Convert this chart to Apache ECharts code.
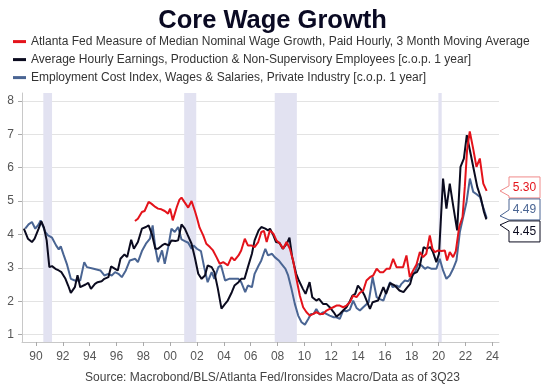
<!DOCTYPE html>
<html><head><meta charset="utf-8">
<script src="https://cdn.jsdelivr.net/npm/echarts@6/dist/echarts.min.js"></script>
<style>html,body{margin:0;padding:0;background:#fff}#c{width:541px;height:387px}</style>
</head><body><div id="c"></div>
<script>
const FONT = 'Liberation Sans, Arial, Helvetica, sans-serif';
const RED = '#e4131b', BLACK = '#0b0b1f', BLUE = '#4a6593';
const titleText = 'Core Wage Growth';
const sourceText = 'Source: Macrobond/BLS/Atlanta Fed/Ironsides Macro/Data as of 3Q23';
const nameAtl = 'Atlanta Fed Measure of Median Nominal Wage Growth, Paid Hourly, 3 Month Moving Average';
const nameAhe = 'Average Hourly Earnings, Production & Non-Supervisory Employees [c.o.p. 1 year]';
const nameEci = 'Employment Cost Index, Wages & Salaries, Private Industry [c.o.p. 1 year]';

// recession periods (decimal years)
const recessions = [[1990.55,1991.2],[2001.05,2001.95],[2007.8,2009.45],[2020.0,2020.25]];

// [decimal year, % y/y]
const atlantaFed = [[1997.38,4.4],[1997.6,4.47],[1997.9,4.67],[1998.1,4.7],[1998.4,4.97],[1998.6,4.92],[1998.9,4.82],[1999.1,4.77],[1999.35,4.75],[1999.6,4.7],[1999.85,4.62],[2000.0,4.77],[2000.2,4.42],[2000.5,4.82],[2000.7,5.04],[2000.85,5.1],[2001.1,4.95],[2001.35,4.8],[2001.6,5.0],[2001.85,4.7],[2002.0,4.5],[2002.2,4.2],[2002.47,3.97],[2002.7,3.72],[2002.97,3.62],[2003.2,3.52],[2003.46,3.32],[2003.7,3.12],[2003.96,3.17],[2004.15,3.12],[2004.3,3.07],[2004.58,3.32],[2004.8,3.22],[2005.1,3.37],[2005.3,3.52],[2005.57,3.87],[2005.8,3.67],[2006.05,3.67],[2006.3,3.62],[2006.57,3.77],[2006.8,4.07],[2007.0,4.1],[2007.2,3.77],[2007.44,4.12],[2007.7,4.02],[2007.93,3.82],[2008.2,3.72],[2008.43,3.57],[2008.68,3.77],[2008.93,3.57],[2009.17,3.22],[2009.42,2.67],[2009.67,2.17],[2009.92,1.82],[2010.17,1.67],[2010.42,1.57],[2010.67,1.62],[2010.9,1.67],[2011.16,1.62],[2011.4,1.62],[2011.66,1.72],[2011.9,1.77],[2012.16,1.82],[2012.4,1.87],[2012.65,1.87],[2012.9,1.82],[2013.15,1.87],[2013.4,1.97],[2013.65,2.17],[2013.9,2.12],[2014.14,2.25],[2014.4,2.32],[2014.64,2.62],[2014.9,2.72],[2015.14,2.77],[2015.4,2.97],[2015.64,2.87],[2015.9,2.87],[2016.13,2.97],[2016.38,2.97],[2016.63,3.27],[2016.88,3.02],[2017.12,3.02],[2017.37,3.02],[2017.62,3.37],[2017.87,2.72],[2018.12,2.92],[2018.37,3.1],[2018.62,3.47],[2018.86,3.32],[2019.1,3.42],[2019.36,3.97],[2019.56,3.57],[2019.73,3.47],[2020.0,3.52],[2020.24,3.5],[2020.48,3.52],[2020.65,3.22],[2020.85,3.47],[2021.1,3.32],[2021.3,3.5],[2021.55,4.22],[2021.8,4.52],[2021.97,5.42],[2022.14,6.52],[2022.34,7.08],[2022.6,6.55],[2022.84,6.02],[2023.09,6.27],[2023.35,5.52],[2023.6,5.3]];

const ahe = [[1989.1,4.17],[1989.4,3.87],[1989.7,3.77],[1989.9,3.87],[1990.2,4.17],[1990.4,4.39],[1990.6,4.2],[1990.8,3.82],[1991.0,3.02],[1991.2,3.05],[1991.45,2.97],[1991.7,2.92],[1991.9,2.87],[1992.2,2.67],[1992.4,2.47],[1992.6,2.25],[1992.9,2.42],[1993.1,2.78],[1993.3,2.42],[1993.7,2.5],[1993.9,2.55],[1994.1,2.37],[1994.4,2.52],[1994.6,2.57],[1994.9,2.6],[1995.1,2.67],[1995.4,2.72],[1995.6,3.04],[1995.9,2.97],[1996.1,2.92],[1996.3,3.27],[1996.6,3.4],[1996.8,3.32],[1997.1,3.84],[1997.3,3.57],[1997.6,3.77],[1997.9,4.17],[1998.2,4.22],[1998.4,4.27],[1998.65,4.0],[1998.9,3.57],[1999.1,3.57],[1999.4,3.67],[1999.6,3.72],[1999.9,3.67],[2000.1,3.82],[2000.4,3.8],[2000.6,3.82],[2000.85,4.3],[2001.1,4.17],[2001.35,3.95],[2001.6,3.72],[2001.85,3.3],[2002.1,2.82],[2002.35,2.67],[2002.6,2.77],[2002.8,3.07],[2003.1,3.02],[2003.3,2.87],[2003.55,2.4],[2003.83,1.78],[2004.1,1.92],[2004.3,2.02],[2004.6,2.27],[2004.8,2.47],[2005.1,2.57],[2005.3,2.67],[2005.55,2.67],[2005.8,3.02],[2006.1,3.42],[2006.3,3.82],[2006.6,4.12],[2006.8,4.22],[2007.1,4.17],[2007.3,4.12],[2007.45,4.17],[2007.7,3.97],[2007.9,3.77],[2008.15,3.75],[2008.4,3.57],[2008.7,3.72],[2008.9,3.9],[2009.1,3.32],[2009.4,2.82],[2009.6,2.62],[2009.9,2.37],[2010.1,2.22],[2010.4,2.57],[2010.6,2.12],[2010.9,2.02],[2011.1,2.07],[2011.4,1.92],[2011.65,1.92],[2011.9,1.82],[2012.2,1.67],[2012.4,1.54],[2012.65,1.62],[2012.9,1.72],[2013.15,1.82],[2013.4,2.0],[2013.6,2.17],[2013.8,2.22],[2014.0,2.47],[2014.3,2.32],[2014.5,2.17],[2014.9,1.77],[2015.1,1.97],[2015.5,2.02],[2015.9,2.42],[2016.1,2.22],[2016.4,2.54],[2016.75,2.47],[2017.1,2.32],[2017.4,2.27],[2017.65,2.4],[2017.9,2.52],[2018.1,2.82],[2018.4,2.87],[2018.6,3.02],[2018.9,3.62],[2019.1,3.57],[2019.4,3.62],[2019.6,3.47],[2019.85,3.17],[2020.05,3.42],[2020.35,5.67],[2020.6,4.77],[2020.85,5.52],[2021.1,4.87],[2021.4,4.12],[2021.65,6.02],[2021.9,6.27],[2022.12,6.97],[2022.4,6.42],[2022.65,5.92],[2022.9,5.42],[2023.15,5.12],[2023.4,4.67],[2023.58,4.45]];

const eci = [[1989.2,4.17],[1989.45,4.3],[1989.7,4.37],[1989.95,4.17],[1990.2,4.3],[1990.35,4.42],[1990.7,4.07],[1990.9,3.97],[1991.2,3.9],[1991.5,3.67],[1991.7,3.55],[1991.85,3.64],[1992.05,3.4],[1992.3,3.12],[1992.6,2.67],[1992.9,2.62],[1993.3,2.62],[1993.6,3.17],[1993.8,3.02],[1994.3,2.97],[1994.8,2.92],[1995.1,2.77],[1995.4,2.82],[1995.65,2.77],[1995.9,2.87],[1996.15,2.82],[1996.4,2.72],[1996.7,2.92],[1997.0,3.22],[1997.4,3.27],[1997.6,3.17],[1997.9,3.5],[1998.2,3.72],[1998.5,3.87],[1998.7,4.27],[1998.9,3.6],[1999.1,3.17],[1999.4,3.52],[1999.6,3.12],[1999.85,3.6],[2000.1,4.17],[2000.35,4.07],[2000.6,4.22],[2000.85,3.85],[2001.1,3.8],[2001.35,3.75],[2001.6,3.57],[2001.75,3.67],[2002.0,3.57],[2002.3,3.5],[2002.55,3.0],[2002.8,2.57],[2003.1,2.87],[2003.3,2.67],[2003.6,3.02],[2003.8,3.07],[2004.1,2.62],[2004.4,2.67],[2004.7,2.67],[2005.1,2.67],[2005.3,2.57],[2005.6,2.27],[2005.8,2.47],[2006.1,2.42],[2006.3,2.82],[2006.6,3.07],[2006.8,3.22],[2007.1,3.57],[2007.3,3.37],[2007.6,3.42],[2007.8,3.32],[2008.1,3.22],[2008.3,3.12],[2008.6,2.97],[2008.8,2.77],[2009.05,2.37],[2009.3,1.92],[2009.55,1.57],[2009.8,1.37],[2010.05,1.3],[2010.3,1.47],[2010.5,1.62],[2010.7,1.62],[2010.9,1.77],[2011.15,1.6],[2011.4,1.67],[2011.65,1.62],[2011.9,1.57],[2012.2,1.52],[2012.4,1.52],[2012.65,1.47],[2012.9,1.72],[2013.15,1.7],[2013.4,1.75],[2013.65,2.02],[2013.9,1.8],[2014.15,1.72],[2014.4,1.82],[2014.8,1.97],[2015.1,2.72],[2015.4,2.12],[2015.6,2.07],[2015.9,2.02],[2016.15,2.3],[2016.4,2.57],[2016.6,2.42],[2016.9,2.47],[2017.1,2.42],[2017.25,2.52],[2017.5,2.62],[2017.75,2.6],[2018.0,2.72],[2018.25,2.87],[2018.5,3.12],[2018.75,3.07],[2019.0,2.97],[2019.2,3.02],[2019.5,2.97],[2019.85,2.97],[2020.1,3.27],[2020.35,2.92],[2020.6,2.67],[2020.85,2.77],[2021.1,2.97],[2021.35,3.22],[2021.6,4.07],[2021.85,4.52],[2022.1,4.97],[2022.35,5.67],[2022.6,5.27],[2022.85,5.2],[2023.1,5.12],[2023.35,4.8],[2023.6,4.49]];

// axis settings
const xMin = 1988.96, xMax = 2024.52;
const yMin = 0.78, yMax = 8.23;
const yTickMin = 1, yTickMax = 8, yTickStep = 1;
const xTickMin = 1990, xTickMax = 2024, xTickStep = 2;

const chart = echarts.init(document.getElementById('c'), null, {renderer: 'canvas'});
const gridLine = '#e3e3e3', axisCol = '#c8c8c8', labCol = '#555';

const option = {
  animation: false,
  backgroundColor: '#fff',
  title: [
    {text: titleText, left: 272.5, textAlign: 'center', top: 8, padding: 0,
     textStyle: {fontFamily: FONT, fontSize: 25.5, fontWeight: 'bold', color: '#0a0a23'}},
    {text: sourceText, left: 272.5, textAlign: 'center', top: 371.5, padding: 0,
     textStyle: {fontFamily: FONT, fontSize: 12, fontWeight: 'normal', color: '#444'}}
  ],
  legend: {
    orient: 'vertical', left: 13, top: 35.6, padding: 0, itemGap: 6,
    itemWidth: 13, itemHeight: 3, icon: 'rect',
    textStyle: {fontFamily: FONT, fontSize: 12, color: '#333'},
    data: [nameAtl, nameAhe, nameEci]
  },
  grid: [
    {left: 22, right: 42, top: 93, bottom: 45},
    {left: 22, right: 42, top: 100.9, bottom: 52.3},
    {left: 36, right: 48.7, top: 93, bottom: 45}
  ],
  xAxis: [
    {type: 'value', gridIndex: 0, min: xMin, max: xMax,
     axisLine: {show: true, lineStyle: {color: axisCol}}, axisTick: {show: false},
     axisLabel: {show: false}, splitLine: {show: false}},
    {type: 'value', gridIndex: 1, min: 0, max: 1, show: false},
    {type: 'value', gridIndex: 2, min: xTickMin, max: xTickMax, interval: xTickStep,
     axisLine: {show: false},
     axisTick: {show: true, length: 4, lineStyle: {color: '#aaa'}},
     axisLabel: {show: true, margin: 9, fontFamily: FONT, fontSize: 12, color: labCol,
       formatter: v => String(v).slice(2)},
     splitLine: {show: false}}
  ],
  yAxis: [
    {type: 'value', gridIndex: 0, min: yMin, max: yMax,
     axisLine: {show: true, lineStyle: {color: axisCol}}, axisTick: {show: false},
     axisLabel: {show: false}, splitLine: {show: false}},
    {type: 'value', gridIndex: 1, min: yTickMin, max: yTickMax, interval: yTickStep,
     axisLine: {show: false},
     axisTick: {show: true, length: 4, lineStyle: {color: '#aaa'}},
     axisLabel: {show: true, margin: 8, fontFamily: FONT, fontSize: 12, color: labCol},
     splitLine: {show: true, lineStyle: {color: gridLine, width: 1}}},
    {type: 'value', gridIndex: 2, min: 0, max: 1, show: false}
  ],
  series: [
    {name: nameEci, type: 'line', xAxisIndex: 0, yAxisIndex: 0, data: eci,
     showSymbol: false, symbol: 'none', lineStyle: {color: BLUE, width: 2}, itemStyle: {color: BLUE}, z: 3,
     markArea: {silent: true, itemStyle: {color: '#e2e2f1'},
       data: recessions.map(r => [{xAxis: r[0], yAxis: yMin}, {xAxis: r[1], yAxis: yMax}])}},
    {name: nameAhe, type: 'line', xAxisIndex: 0, yAxisIndex: 0, data: ahe,
     showSymbol: false, symbol: 'none', lineStyle: {color: BLACK, width: 2}, itemStyle: {color: BLACK}, z: 4},
    {name: nameAtl, type: 'line', xAxisIndex: 0, yAxisIndex: 0, data: atlantaFed,
     showSymbol: false, symbol: 'none', lineStyle: {color: RED, width: 2}, itemStyle: {color: RED}, z: 5}
  ]
};
chart.setOption(option);

// end-value callouts
const ends = [
  {data: atlantaFed, text: RED, stroke: '#f08a8a'},
  {data: eci, text: BLUE, stroke: BLUE},
  {data: ahe, text: BLACK, stroke: BLACK}
].map(s => {
  const p = s.data[s.data.length - 1];
  const px = chart.convertToPixel({gridIndex: 0}, p);
  return Object.assign({}, s, {val: p[1], vy: px[1]});
});
ends.sort((a, b) => a.vy - b.vy);
const H = 21, STEP = 22;
let groups = ends.map(e => ({items: [e]}));
const center = g => g.items.reduce((s, t) => s + t.vy, 0) / g.items.length;
let merged = true;
while (merged) {
  merged = false;
  for (let i = 0; i < groups.length - 1; i++) {
    const g1 = groups[i], g2 = groups[i + 1];
    const b1 = center(g1) + (g1.items.length - 1) * STEP / 2;
    const t2 = center(g2) - (g2.items.length - 1) * STEP / 2;
    if (t2 - b1 < STEP) { groups.splice(i, 2, {items: g1.items.concat(g2.items)}); merged = true; break; }
  }
}
groups.forEach(g => { const c = center(g); g.items.forEach((it, k) => { it.cy = c + (k - (g.items.length - 1) / 2) * STEP; }); });
const tipX = chart.convertToPixel({gridIndex: 0}, [xMax, yMin])[0] + 1;
const boxL = tipX + 9, boxR = 540;
const gfx = [];
ends.forEach((e, i) => {
  const top = e.cy - H / 2, bot = e.cy + H / 2;
  const tipY = Math.min(Math.max(e.vy, top + 4), bot - 4);
  const bt = Math.min(Math.max(tipY - 5, top), bot - 10), bb = bt + 10;
  gfx.push({type: 'polygon', id: 'box' + i, z: 10,
    shape: {points: [[boxL, top], [boxR, top], [boxR, bot], [boxL, bot], [boxL, bb], [tipX, tipY], [boxL, bt]]},
    style: {fill: '#fff', stroke: e.stroke, lineWidth: 1}});
  gfx.push({type: 'text', id: 'lab' + i, z: 11, x: (boxL + boxR) / 2, y: e.cy,
    style: {text: e.val.toFixed(2), fill: e.text, font: '12px ' + FONT, textAlign: 'center', textVerticalAlign: 'middle'}});
});
chart.setOption({graphic: gfx});
</script></body></html>
